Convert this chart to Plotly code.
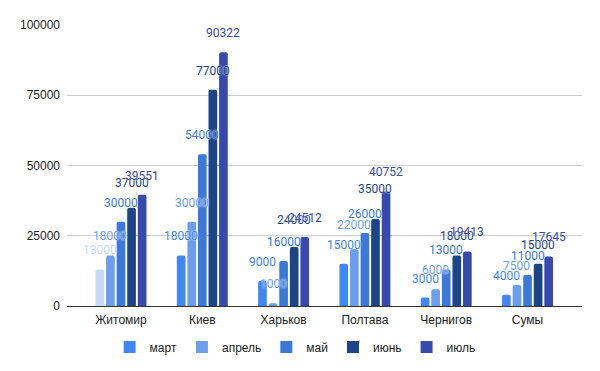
import plotly.graph_objects as go

cities = ["Житомир", "Киев", "Харьков", "Полтава", "Чернигов", "Сумы"]
months = ["март", "апрель", "май", "июнь", "июль"]

# bar heights
mart = [13000, 18000, 9000, 15000, 3000, 4000]
aprel = [18000, 30000, 1000, 20300, 6000, 7500]
mai = [30000, 54000, 16000, 26000, 13000, 11000]
iyun = [35000, 77000, 21000, 31000, 18000, 15000]
iyul = [39551, 90322, 24512, 40752, 19413, 17645]

# data labels as shown on the picture
mart_lbl = ["13000", "18000", "9000", "15000", "3000", "4000"]
aprel_lbl = ["18000", "30000", "1000", "22000", "6000", "7500"]
mai_lbl = ["30000", "54000", "16000", "26000", "13000", "11000"]
iyun_lbl = ["37000", "77000", "24000", "35000", "18000", "15000"]
iyul_lbl = ["39551", "90322", "24512", "40752", "19413", "17645"]

y_ticks = [0, 25000, 50000, 75000, 100000]

colors = ["#4285f4", "#6d9eeb", "#3c78d8", "#1c4587", "#3949ab"]
faded = "#c6dafc"

series = [mart, aprel, mai, iyun, iyul]
labels = [mart_lbl, aprel_lbl, mai_lbl, iyun_lbl, iyul_lbl]

BARGAP = 0.35
n = len(months)
slot = (1 - BARGAP) / n

fig = go.Figure()
for i, (name, vals, lbl, col) in enumerate(zip(months, series, labels, colors)):
    pcols = [col] * len(cities)
    if i == 0:
        pcols[0] = faded
    fig.add_trace(go.Bar(
        name=name, x=cities, y=vals, offsetgroup=str(i), showlegend=False,
        marker=dict(color=pcols, cornerradius=2, line=dict(width=0)),
        hoverinfo="skip",
    ))
    # legend entry with the series colour
    fig.add_trace(go.Bar(
        name=name, x=[cities[0]], y=[None], offsetgroup=str(i), showlegend=True,
        marker=dict(color=col, line=dict(width=0)), hoverinfo="skip",
    ))
    for j, t in enumerate(lbl):
        fig.add_annotation(
            x=j + (i - (n - 1) / 2) * slot, y=float(t), xref="x", yref="y",
            text=t, showarrow=False, yanchor="middle", xanchor="center", yshift=19,
            font=dict(family="Roboto", size=12, color=pcols[j],
                      shadow="0px 0px 2px white"),
        )

W, H = 592, 363
fig.update_layout(
    width=W, height=H,
    margin=dict(l=59, r=18, t=17, b=65, autoexpand=False),
    barmode="group", bargap=BARGAP, bargroupgap=0.18,
    plot_bgcolor="white", paper_bgcolor="white",
    font=dict(family="Liberation Sans, Arial", size=12, color="#222"),
    legend=dict(orientation="h", xref="container", x=0.485, xanchor="center",
                y=-0.146, yanchor="middle",
                font=dict(size=12, color="#222"), itemclick=False),
)
fig.update_xaxes(range=[-0.664, 5.67], showgrid=False, ticks="",
                 tickfont=dict(size=12, color="#222"), ticklabelstandoff=5)
fig.update_yaxes(range=[0, 100000], tickvals=y_ticks, ticktext=[str(t) for t in y_ticks],
                 showgrid=True, gridcolor="#cccccc", gridwidth=1,
                 zeroline=True, zerolinecolor="#333333", zerolinewidth=1,
                 tickfont=dict(size=12, color="#222"), ticks="", ticklabelstandoff=6)

fig.write_html("out.html")
